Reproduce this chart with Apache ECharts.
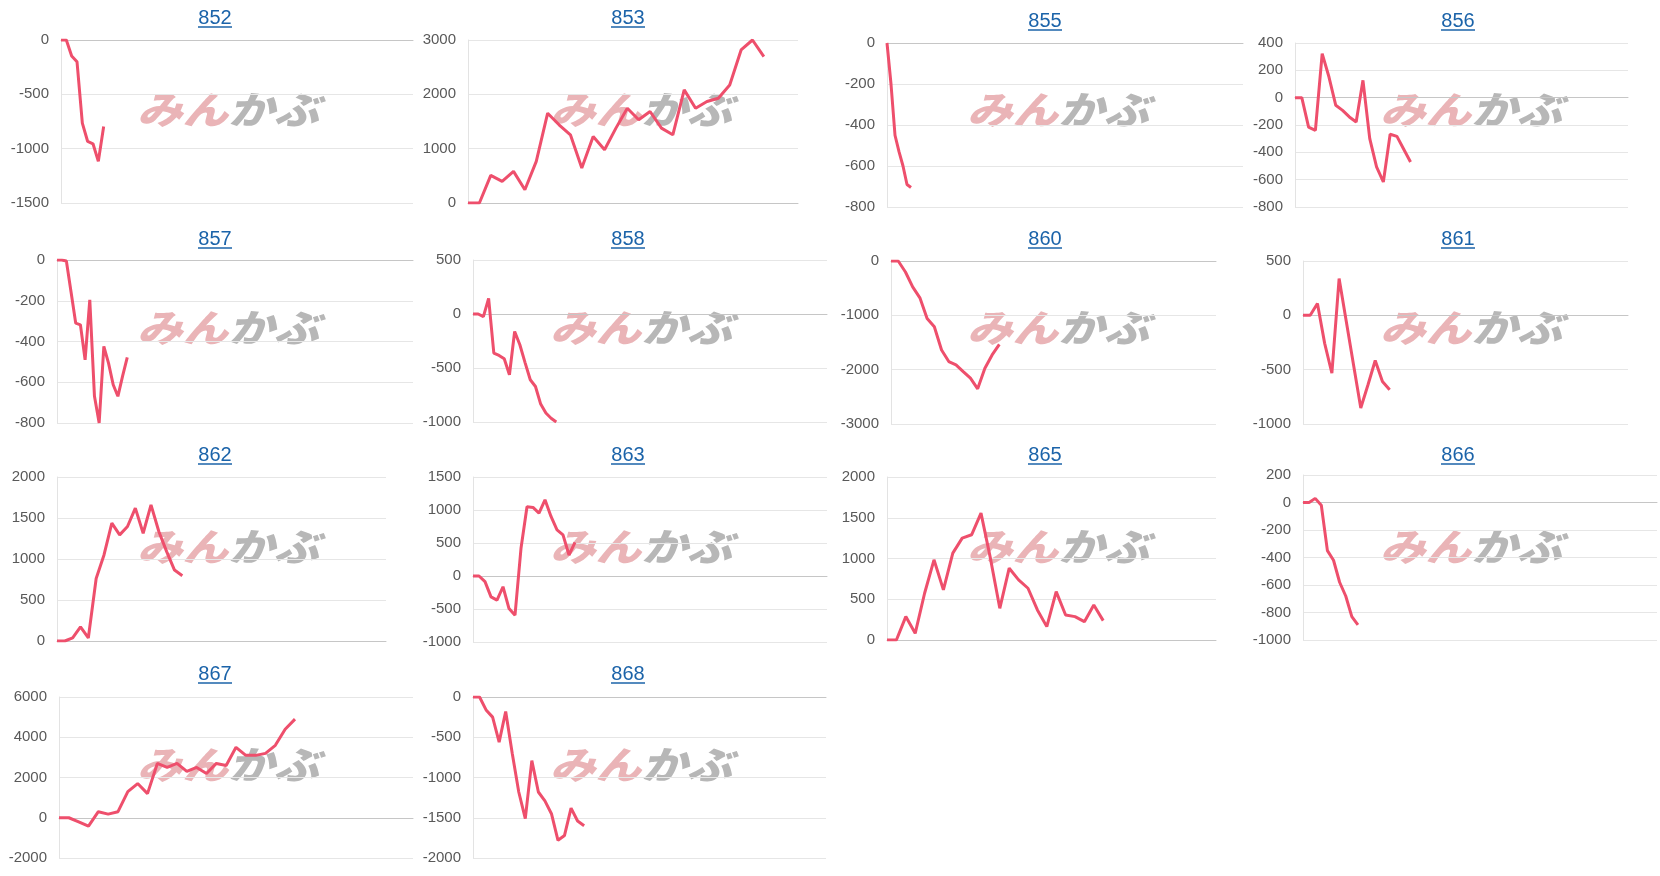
<!DOCTYPE html>
<html lang="ja">
<head>
    <meta charset="utf-8" />
    <title>収支グラフ</title>
    <script src="https://cdn.jsdelivr.net/npm/echarts@6/dist/echarts.min.js"></script>
    <style>
        body { margin: 0; background: #fff; }
    </style>
</head>
<body>
    <div id="main" style="width:1660px;height:876px;"></div>
    <script>
        // chart names (each one a small panel)
        var names = ['852', '853', '855', '856', '857', '858', '860', '861', '862', '863', '865', '866', '867', '868'];

        // values
        var v852 = [0, 0, -147, -200, -765, -934, -955, -1117, -796];
        var v853 = [0, 0, 508, 398, 582, 245, 765, 1653, 1439, 1255, 643, 1224, 980, 1378, 1745, 1531, 1684, 1378, 1255, 2082, 1745, 1867, 1929, 2173, 2816, 3000, 2694];
        var v855 = [0, -200, -450, -530, -600, -690, -705];
        var v856 = [0, 0, -215, -239, 322, 151, -56, -93, -141, -178, 127, -300, -507, -617, -268, -283, -377, -471];
        var v857 = [0, 0, -5, -157, -310, -318, -490, -196, -669, -800, -424, -506, -612, -669, -570, -478];
        var v858 = [0, 0, -25, 145, -362, -384, -415, -563, -162, -285, -450, -609, -671, -834, -917, -965, -1000];
        var v860 = [0, 0, -202, -477, -678, -1057, -1210, -1637, -1851, -1912, -2035, -2157, -2352, -1974, -1729, -1534];
        var v861 = [0, 0, 109, -258, -533, 338, -59, -456, -853, -639, -416, -609, -685];
        var v862 = [0, 0, 37, 171, 37, 763, 1049, 1437, 1294, 1396, 1620, 1314, 1661, 1335, 1090, 865, 796];
        var v863 = [0, 0, -86, -316, -366, -163, -493, -594, 420, 1050, 1039, 952, 1155, 902, 699, 623, 318, 511];
        var v865 = [0, 0, 287, 82, 574, 984, 615, 1066, 1250, 1291, 1557, 1004, 389, 881, 738, 635, 369, 164, 594, 307, 287, 225, 430, 238];
        var v866 = [0, 0, 30, -20, -350, -420, -580, -680, -830, -890];
        var v867 = [0, 0, -200, -420, 300, 180, 300, 1300, 1700, 1200, 2700, 2500, 2700, 2300, 2500, 2200, 2700, 2600, 3500, 3100, 3100, 3200, 3600, 4400, 4900];
        var v868 = [0, 0, -160, -250, -560, -180, -700, -1180, -1510, -790, -1180, -1290, -1450, -1780, -1720, -1380, -1540, -1600];
        var values = [v852, v853, v855, v856, v857, v858, v860, v861, v862, v863, v865, v866, v867, v868];

        // number of x slots per chart (days on the horizontal axis)
        var slots = [67, 30, 90, 50, 77, 69, 46, 46, 43, 60, 36, 59, 37, 55];

        // y axis ticks: min, max, step
        var yMin = [-1500, 0, -800, -800, -800, -1000, -3000, -1000, 0, -1000, 0, -1000, -2000, -2000];
        var yMax = [0, 3000, 0, 400, 0, 500, 0, 500, 2000, 1500, 2000, 200, 6000, 0];
        var yStep = [500, 1000, 200, 200, 200, 500, 1000, 500, 500, 500, 500, 200, 2000, 500];

        // layout: plot box [left, right, top, bottom] and title centre
        var boxes = [
            [61, 413, 40, 203], [468, 798, 40, 203], [887, 1243, 43, 207], [1295, 1628, 43, 207],
            [57, 413, 260, 423], [473, 827, 260, 422], [891, 1216, 261, 424], [1303, 1628, 261, 424],
            [57, 386, 477, 641], [473, 827, 477, 642], [887, 1216, 477, 640], [1303, 1657, 475, 640],
            [59, 413, 697, 858], [473, 826, 697, 858]
        ];
        var titlePos = [
            [215, 17], [628, 17], [1045, 20], [1458, 20],
            [215, 238], [628, 238], [1045, 238], [1458, 238],
            [215, 454], [628, 454], [1045, 454], [1458, 454],
            [215, 673], [628, 673]
        ];
        var markPos = [137, 550, 967, 1380];
        var markTop = [95, 313, 532, 750];

        var linkColor = '#1b63a9';
        var lineColor = '#ee4f6c';

        var chartDom = document.getElementById('main');
        var myChart = echarts.init(chartDom);
        var option = {
            animation: false,
            title: [],
            grid: [],
            xAxis: [],
            yAxis: [],
            series: [],
            graphic: []
        };

        for (var i = 0; i < names.length; i++) {
            var b = boxes[i];
            var cats = [];
            for (var k = 0; k < slots[i]; k++) cats.push(String(k + 1));

            option.grid.push({ left: b[0], top: b[2], width: b[1] - b[0], height: b[3] - b[2] });
            option.xAxis.push({
                gridIndex: i,
                type: 'category',
                boundaryGap: false,
                data: cats,
                axisLine: { show: true, onZero: true, lineStyle: { color: '#c6c6c6', width: 1 } },
                axisTick: { show: false },
                axisLabel: { show: false },
                splitLine: { show: false }
            });
            option.yAxis.push({
                gridIndex: i,
                type: 'value',
                min: yMin[i],
                max: yMax[i],
                interval: yStep[i],
                axisLine: { show: true, lineStyle: { color: '#e3e3e3' } },
                axisTick: { show: false },
                axisLabel: {
                    color: '#595959', fontSize: 15, fontFamily: 'Liberation Sans', margin: 12,
                    formatter: function (v) { return String(v); }
                },
                splitLine: { lineStyle: { color: '#e6e6e6' } }
            });
            option.series.push({
                name: names[i],
                type: 'line',
                xAxisIndex: i,
                yAxisIndex: i,
                data: values[i],
                showSymbol: false,
                symbol: 'none',
                lineStyle: { width: 3, color: lineColor },
                itemStyle: { color: lineColor },
                z: 3
            });

            var t = titlePos[i];
            option.title.push({
                text: names[i],
                left: t[0],
                top: t[1] - 9,
                textAlign: 'center',
                padding: 0,
                textStyle: { fontSize: 20, fontWeight: 'normal', color: linkColor, fontFamily: 'Liberation Sans' }
            });
            // link underline
            option.graphic.push({
                type: 'line',
                shape: { x1: t[0] - 17, y1: t[1] + 10, x2: t[0] + 17, y2: t[1] + 10 },
                style: { stroke: linkColor, lineWidth: 1.5 },
                silent: true
            });
            // watermark
            option.graphic.push({
                type: 'text',
                x: markPos[i % 4],
                y: markTop[Math.floor(i / 4)] - 4,
                scaleX: 1.2,
                z: 0,
                silent: true,
                style: {
                    text: '{a|みん}{b|かぶ}',
                    rich: {
                        a: { fill: '#eab4b7', fontSize: 38, fontWeight: 900, fontStyle: 'italic', fontFamily: 'Noto Sans CJK JP' },
                        b: { fill: '#b7b7b7', fontSize: 38, fontWeight: 900, fontStyle: 'italic', fontFamily: 'Noto Sans CJK JP' }
                    }
                }
            });
        }

        option && myChart.setOption(option);
    </script>
</body>
</html>
